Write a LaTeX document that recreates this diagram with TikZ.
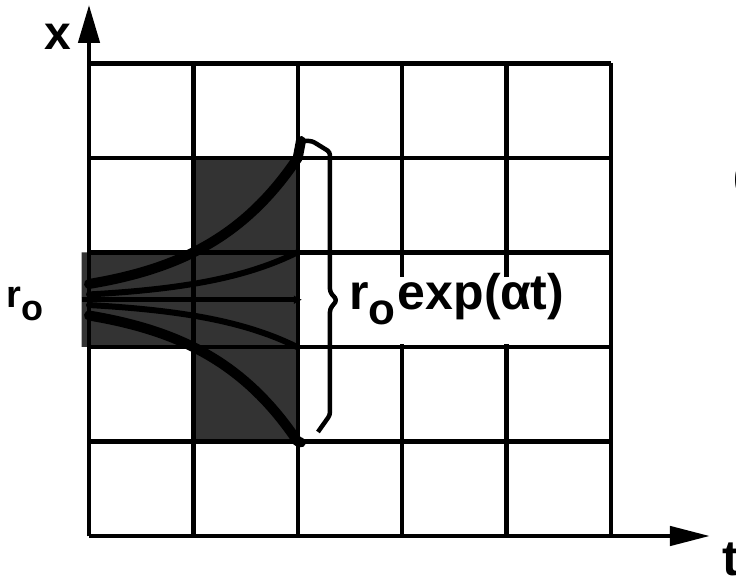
\documentclass[tikz,border=0pt]{standalone}
\usepackage{fontspec}
\setmainfont{Liberation Sans}
\usetikzlibrary{arrows.meta}
\begin{document}
\begin{tikzpicture}[x=104.4pt,y=94.5pt,line join=round,
	trait/.style={line width=4.5pt},
	ligne/.style={line width=#1,line cap=round},
	etiquette/.style={font=\bfseries\fontsize{#1}{#1}\selectfont,inner sep=0pt}]
	% Dimensions du repere
	\def\xmin{0}
	\def\xmax{5}
	\def\ymin{0}
	\def\ymax{5}
	\useasboundingbox (-0.8525,-0.4233) rectangle (6.1973,5.672);
	% Zone grisee en croix
	\fill[black!80] (1,1) -- (2,1) -- (2,4) -- (1,4) -- (1,3) -- (-0.07,3)
		-- (-0.07,2) -- (1,2) -- cycle;
	% Grille
	\draw [trait] (\xmin,\ymin) grid[xstep=104.4pt,ystep=94.5pt] (\xmax,\ymax);
	% Axes
	\draw [trait,-{Triangle[length=38pt,width=21pt]}] (0,0)--(0,5.62);
	\draw [trait,-{Triangle[length=40pt,width=19pt]}] (0,0)--(5.948,0);
	% Trajectoires qui s'ecartent
	\draw [ligne=10pt] plot[domain=0:2,samples=40] (\x,{2.5+0.167*exp(1.0986*\x)}) -- (2.03,4.18);
	\draw [ligne=10pt] plot[domain=0:2,samples=40] (\x,{2.5-0.167*exp(1.0986*\x)}) -- (2.03,0.99);
	\draw [ligne=6pt] plot[domain=0:2,samples=30] (\x,{2.5+0.056*exp(1.0986*\x)});
	\draw [ligne=6pt] plot[domain=0:2,samples=30] (\x,{2.5-0.056*exp(1.0986*\x)});
	\draw [line width=5pt,-{Latex[length=8pt,width=9pt]}] (-0.07,2.5)--(2.04,2.5);
	% Accolade
	\coordinate (haut) at (2.021,4.18);
	\coordinate (bas) at (2.193,1.101);
	\draw [trait,rounded corners=3pt] (haut) -- (2.136,4.18) -- (2.308,4.063)
		-- (2.308,2.582) -- (2.375,2.497) -- (2.308,2.402) -- (2.308,1.28) -- (bas);
	% Annotations
	\fill[white] (2.45,2.03) rectangle (4.56,2.74);
	\node [etiquette=50,anchor=base west] (taux) at (2.49,2.40)
		{r\raisebox{-0.3em}{\fontsize{44}{44}\selectfont o}\hspace{0.05em}exp(α\kern-0.02em t)};
	\node [etiquette=38,anchor=base west] (r0) at (-0.79,2.413)
		{r\raisebox{-0.32em}{\fontsize{36}{36}\selectfont o}};
	\node [etiquette=48,anchor=base west] (xlab) at (-0.43,5.143) {x};
	\node [etiquette=50,anchor=base west] (tlab) at (6.07,-0.413) {t};
	\node [etiquette=40,anchor=base west] (parenth) at (6.17,3.66) {(};
\end{tikzpicture}
\end{document}
